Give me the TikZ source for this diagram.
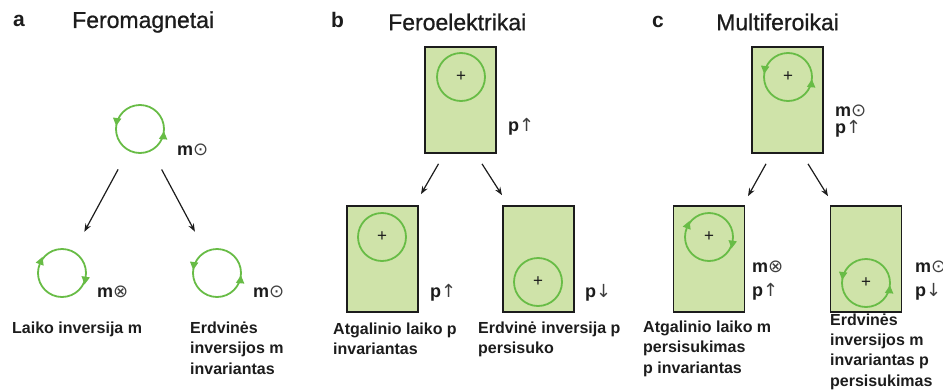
\documentclass[tikz,border=0pt]{standalone}
\usepackage{fontspec}
\setmainfont{Liberation Sans}
\newfontfamily\symfont{DejaVu Sans}
\newfontfamily\titlefont[FakeBold=0.8]{Liberation Sans}
\usetikzlibrary{arrows.meta,decorations.markings,calc}
\definecolor{loopgreen}{RGB}{104,188,70}
\definecolor{cellfill}{RGB}{207,227,169}
\definecolor{ink}{RGB}{28,28,28}
% magnetisation / polarisation symbols
\newcommand\magout{\textbf{m}{\symfont\mdseries\color{ink!85}⊙}}
\newcommand\magin{\textbf{m}{\symfont\mdseries\color{ink!85}⊗}}
\newcommand\polup{\textbf{p}{\symfont\mdseries\color{ink!85}↑}}
\newcommand\poldown{\textbf{p}{\symfont\mdseries\color{ink!85}↓}}
\tikzset{
  title/.style={anchor=west, inner sep=0, text=ink, font=\titlefont\fontsize{23}{26}\selectfont},
  tag/.style={anchor=west, inner sep=0, text=ink, font=\bfseries\fontsize{21}{24}\selectfont},
  caption/.style={anchor=base west, inner sep=0, align=left, text=ink,
    font=\bfseries\fontsize{16}{20.5}\selectfont},
  vec/.style={anchor=west, inner sep=0, text=ink, font=\fontsize{18}{19}\selectfont},
  cell/.style={draw=ink, line width=1.7pt, fill=cellfill,
    minimum width=71pt, minimum height=106pt, inner sep=0},
  ring/.style={circle, draw=loopgreen, line width=1.8pt, minimum size=48pt,
    inner sep=0, text=ink, font=\fontsize{17}{17}\selectfont},
  loopccw/.style={ring, postaction={decorate}, decoration={markings,
    mark=at position 0.48 with {\arrow[color=loopgreen]{Triangle[length=8pt,width=8pt]}},
    mark=at position 0.985 with {\arrow[color=loopgreen]{Triangle[length=8pt,width=8pt]}}}},
  loopcw/.style={ring, postaction={decorate}, decoration={markings,
    mark=at position 0.44 with {\arrow[color=loopgreen]{Triangle[length=8pt,width=8pt,reversed]}},
    mark=at position 0.975 with {\arrow[color=loopgreen]{Triangle[length=8pt,width=8pt,reversed]}}}},
  link/.style={draw=ink, line width=1.2pt, -{Stealth[length=8pt,width=6pt]}},
}
\begin{document}
\begin{tikzpicture}[x=1pt,y=-1pt]
\useasboundingbox (0,0) rectangle (943,391);

% ---------------- a: ferromagnets ----------------
\node[tag]   (ta) at (13,21) {a};
\node[title] (ha) at (72,22) {Feromagnetai};
\node[loopccw] (a0) at (140,129) {};
\node[vec] (a0v) at (177,150) {\magout};
\node[loopcw]  (a1) at (62,273) {};
\node[vec] (a1v) at (97,292) {\magin};
\node[loopccw] (a2) at (217,273) {};
\node[vec] (a2v) at (253,292) {\magout};
\draw[link, shorten <=21pt, shorten >=22pt] (a0) -- (a1);
\draw[link, shorten <=21pt, shorten >=22pt] (a0) -- (a2);
% multi-line captions are placed by the baseline of their last line
\node[caption] (a1c) at (12,333) {Laiko inversija m};
\node[caption] (a2c) at (190,374) {Erdvinės\\inversijos m\\invariantas};

% ---------------- b: ferroelectrics ----------------
\node[tag]   (tb) at (331,20) {b};
\node[title] (hb) at (388,22) {Feroelektrikai};
\node[cell] (b0) at (460.5,100) {};
\node[ring] (b0r) at (461,77) {+};
\node[vec] (b0v) at (508,127) {\polup};
\node[cell] (b1) at (382.5,259) {};
\node[ring] (b1r) at (382,237) {+};
\node[vec] (b1v) at (430,293) {\polup};
\node[cell] (b2) at (538.5,259) {};
\node[ring] (b2r) at (538,282) {+};
\node[vec] (b2v) at (585,293) {\poldown};
\draw[link] ($(b0.south)+(-22,10)$) -- ($(b1.north)+(38.5,-11)$);
\draw[link] ($(b0.south)+(21.5,10)$) -- ($(b2.north)+(-36.5,-10)$);
\node[caption] (b1c) at (333,354.5) {Atgalinio laiko p\\invariantas};
\node[caption] (b2c) at (478,353.5) {Erdvinė inversija p\\persisuko};

% ---------------- c: multiferroics ----------------
\node[tag]   (tc) at (652,22) {c};
\node[title] (hc) at (716,22) {Multiferoikai};
\node[cell] (c0) at (787.5,100) {};
\node[loopccw] (c0r) at (788,77) {+};
\node[vec] (c0m) at (835,111) {\magout};
\node[vec] (c0p) at (835,129) {\polup};
\node[cell] (c1) at (709,259) {};
\node[loopcw] (c1r) at (709,237) {+};
\node[vec] (c1m) at (752,267) {\magin};
\node[vec] (c1p) at (752,292) {\polup};
\node[cell] (c2) at (866,259) {};
\node[loopccw] (c2r) at (866,283) {+};
\node[vec] (c2m) at (915,267) {\magout};
\node[vec] (c2p) at (915,292) {\poldown};
\draw[link] ($(c0.south)+(-21.5,10)$) -- ($(c1.north)+(39,-9)$);
\draw[link] ($(c0.south)+(20.5,10)$) -- ($(c2.north)+(-38,-9)$);
\node[caption] (c1c) at (643,373) {Atgalinio laiko m\\persisukimas\\p invariantas};
\node[caption, font=\bfseries\fontsize{16}{20.3}\selectfont] (c2c) at (830,386)
  {Erdvinės\\inversijos m\\invariantas p\\persisukimas};
\end{tikzpicture}
\end{document}
